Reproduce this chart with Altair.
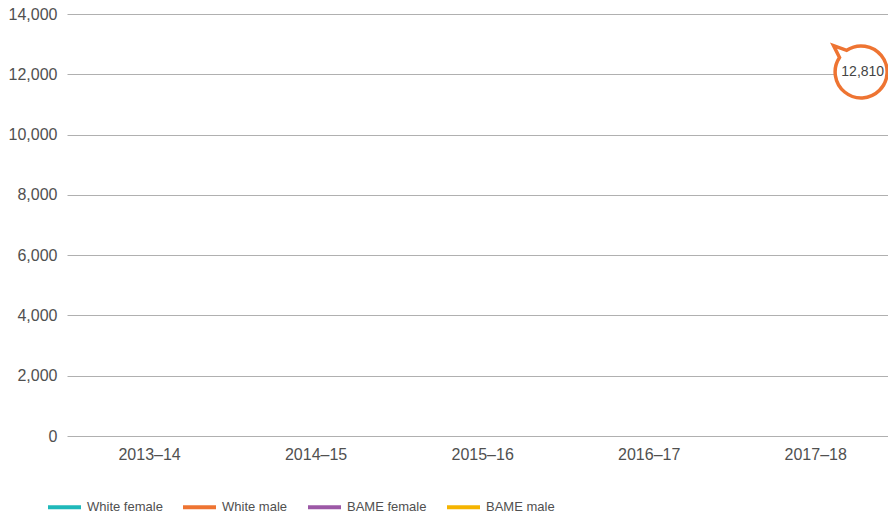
import altair as alt
import pandas as pd

years = ["2013–14", "2014–15", "2015–16", "2016–17", "2017–18"]
series = ["White female", "White male", "BAME female", "BAME male"]
colors = ["#1FB9BA", "#EE7432", "#9C58A6", "#F5B400"]

# only value legible in the picture: the highlighted last White male value
ann_series = ["White male"]
ann_year = ["2017–18"]
ann_value = [12810]
ann_label = ["12,810"]

df = pd.DataFrame({"series": ann_series, "year": ann_year, "value": ann_value, "label": ann_label})

GRAY = "#505050"
FONT = "Liberation Sans"

callout = ("M -0.694 -0.461 L -0.886 -0.842 L -0.465 -0.69 "
           "A 0.832 0.832 0 1 1 -0.694 -0.461 Z")

x = alt.X("year:N", scale=alt.Scale(type="point", domain=years, padding=0.465, align=0.53),
          sort=years,
          axis=alt.Axis(title=None, labelAngle=0, ticks=False, domain=False, grid=False,
                        labelFontSize=16, labelColor=GRAY, labelFont=FONT, labelPadding=10))
y = alt.Y("value:Q", scale=alt.Scale(domain=[0, 14000], nice=False),
          axis=alt.Axis(title=None, values=list(range(0, 14001, 2000)), format=",.0f",
                        ticks=False, domain=False, grid=True, gridColor="#b0b0b0", gridWidth=1,
                        labelFontSize=16, labelColor=GRAY, labelFont=FONT, labelPadding=10))

lines = alt.Chart(df).mark_line(strokeWidth=3).encode(
    x=x, y=y,
    color=alt.Color("series:N", scale=alt.Scale(domain=series, range=colors),
                    legend=alt.Legend(title=None, orient="none", direction="horizontal",
                                      legendX=-21, legendY=474.5,
                                      symbolType="stroke", symbolSize=1089, symbolStrokeWidth=4,
                                      labelFontSize=13, labelColor=GRAY, labelFont=FONT,
                                      labelOffset=4, columnPadding=12)),
)

bubble = alt.Chart(df).mark_point(shape=callout, size=3906, filled=True, fill="white",
                                  fillOpacity=1, opacity=1, stroke="#EE7432", strokeWidth=3.5,
                                  xOffset=46, yOffset=22).encode(x=x, y=y)

text = alt.Chart(df).mark_text(fontSize=14, color="#444444", font=FONT, align="center",
                               baseline="middle", xOffset=47.5, yOffset=22).encode(
    x=x, y=y, text="label:N")

chart = alt.layer(lines, bubble, text).properties(
    width=821, height=422,
    autosize=alt.AutoSizeParams(type="none"),
    padding={"left": 59, "top": 6, "right": 0, "bottom": 82},
).configure_view(stroke=None)

chart.save("out.html", embed_options={"renderer": "svg", "actions": False})
